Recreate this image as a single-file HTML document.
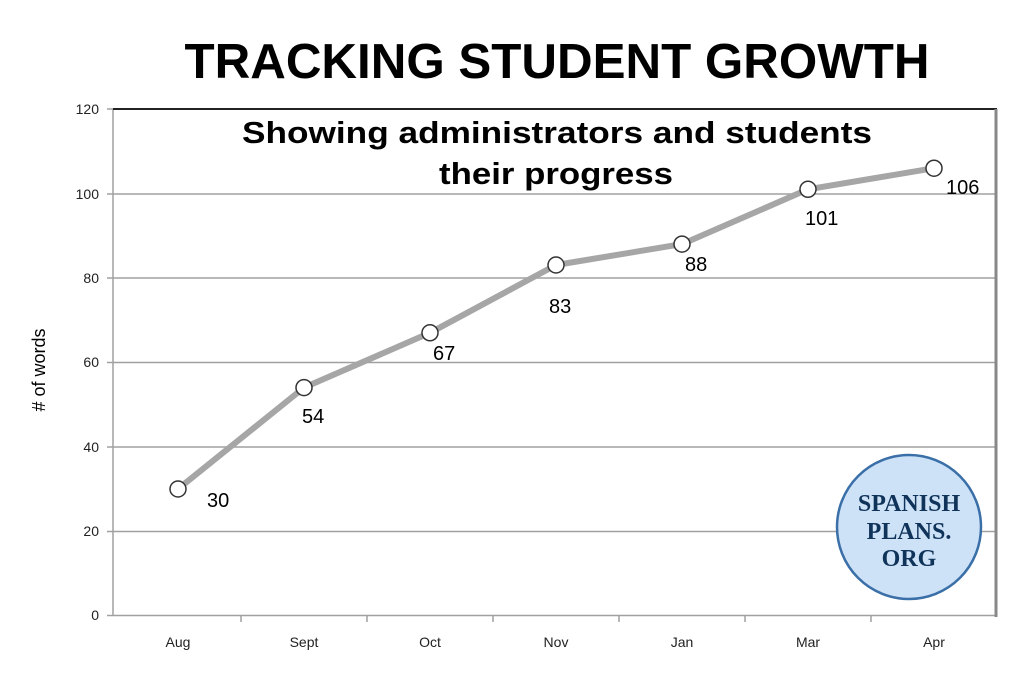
<!DOCTYPE html>
<html><head><style>
body{margin:0;background:#fff;}
svg{display:block;}
</style></head><body>
<svg width="1024" height="695" xmlns="http://www.w3.org/2000/svg">
<text x="557" y="78" text-anchor="middle" font-family="Liberation Sans, sans-serif" font-weight="bold" font-size="49" fill="#000" textLength="745" lengthAdjust="spacingAndGlyphs">TRACKING STUDENT GROWTH</text>
<g stroke="#a0a0a0" stroke-width="1.5">
<line x1="113" y1="531.5" x2="996" y2="531.5"/>
<line x1="113" y1="447" x2="996" y2="447"/>
<line x1="113" y1="362.5" x2="996" y2="362.5"/>
<line x1="113" y1="278" x2="996" y2="278"/>
<line x1="113" y1="194" x2="996" y2="194"/>
<line x1="107" y1="615.5" x2="113" y2="615.5"/>
<line x1="107" y1="531.5" x2="113" y2="531.5"/>
<line x1="107" y1="447" x2="113" y2="447"/>
<line x1="107" y1="362.5" x2="113" y2="362.5"/>
<line x1="107" y1="278" x2="113" y2="278"/>
<line x1="107" y1="194" x2="113" y2="194"/>
<line x1="107" y1="109" x2="113" y2="109"/>
<line x1="113" y1="109" x2="113" y2="616"/>
<line x1="113" y1="615.5" x2="996" y2="615.5"/>
<line x1="241" y1="616" x2="241" y2="622"/>
<line x1="367" y1="616" x2="367" y2="622"/>
<line x1="493" y1="616" x2="493" y2="622"/>
<line x1="619" y1="616" x2="619" y2="622"/>
<line x1="745" y1="616" x2="745" y2="622"/>
<line x1="871" y1="616" x2="871" y2="622"/>
</g>
<line x1="113" y1="109" x2="997" y2="109" stroke="#222" stroke-width="2"/>
<line x1="996" y1="109" x2="996" y2="617" stroke="#888" stroke-width="3"/>
<g font-family="Liberation Sans, sans-serif" font-size="14" fill="#222" text-anchor="end">
<text x="99" y="620">0</text><text x="99" y="536">20</text><text x="99" y="452">40</text>
<text x="99" y="367">60</text><text x="99" y="283">80</text><text x="99" y="199">100</text><text x="99" y="114">120</text>
</g>
<g font-family="Liberation Sans, sans-serif" font-size="14" fill="#222" text-anchor="middle">
<text x="178" y="647">Aug</text><text x="304" y="647">Sept</text><text x="430" y="647">Oct</text>
<text x="556" y="647">Nov</text><text x="682" y="647">Jan</text><text x="808" y="647">Mar</text><text x="934" y="647">Apr</text>
</g>
<text transform="translate(45,370) rotate(-90)" text-anchor="middle" font-family="Liberation Sans, sans-serif" font-size="18" fill="#000"># of words</text>
<text x="557" y="143" text-anchor="middle" font-family="Liberation Sans, sans-serif" font-weight="bold" font-size="31" fill="#000" textLength="630" lengthAdjust="spacingAndGlyphs">Showing administrators and students</text>
<text x="556" y="184" text-anchor="middle" font-family="Liberation Sans, sans-serif" font-weight="bold" font-size="31" fill="#000" textLength="234" lengthAdjust="spacingAndGlyphs">their progress</text>
<polyline points="178,489 304,387.6 430,332.8 556,265 682,244.1 808,189.3 934,168.2" fill="none" stroke="#a6a6a6" stroke-width="6" stroke-linejoin="round"/>
<g fill="#fff" stroke="#333" stroke-width="1.5">
<circle cx="178" cy="489" r="8"/><circle cx="304" cy="387.6" r="8"/><circle cx="430" cy="332.8" r="8"/>
<circle cx="556" cy="265" r="8"/><circle cx="682" cy="244.1" r="8"/><circle cx="808" cy="189.3" r="8"/><circle cx="934" cy="168.2" r="8"/>
</g>
<g font-family="Liberation Sans, sans-serif" font-size="20" fill="#000">
<text x="207" y="507">30</text><text x="302" y="423">54</text><text x="433" y="360">67</text>
<text x="549" y="313">83</text><text x="685" y="271">88</text><text x="805" y="225">101</text><text x="946" y="194">106</text>
</g>
<circle cx="909" cy="527" r="72" fill="#cde2f7" stroke="#3a6fa8" stroke-width="2.5"/>
<g font-family="Liberation Serif, serif" font-weight="bold" fill="#10335a" text-anchor="middle" font-size="24">
<text x="909" y="511">SPANISH</text><text x="909" y="539">PLANS.</text><text x="909" y="566">ORG</text>
</g>
</svg>
</body></html>
